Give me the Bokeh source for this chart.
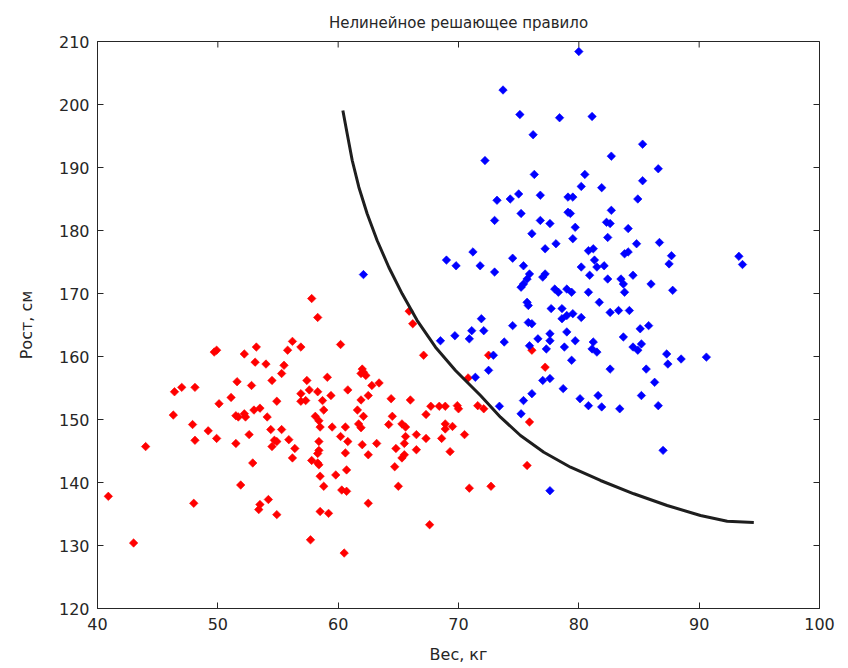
import math
from bokeh.plotting import figure
from bokeh.models import Range1d, FixedTicker
from bokeh.embed import file_html
from bokeh.resources import INLINE

# ---- data (weight kg, height cm) ----
red_weight = [46.4, 47.0, 48.1, 46.3, 47.9, 49.2, 49.7, 49.9, 50.1, 51.1, 51.6, 51.5, 51.7, 52.2, 52.2,
              52.3, 52.8, 53.0, 53.2, 53.1, 53.5, 54.0, 54.1, 54.5, 54.4, 54.9, 55.3, 55.5, 55.8, 56.2,
              55.3, 49.9, 48.1, 44.0, 51.5, 52.6, 54.7, 54.9, 54.5, 55.9, 56.4, 56.2, 52.9, 51.9, 40.9,
              48.0, 54.2, 53.5, 53.4, 54.9, 43.0, 57.8, 58.3, 56.9, 60.2, 62.0, 62.1, 61.9, 62.3, 59.1,
              57.4, 65.9, 66.2, 67.1, 62.8, 63.4, 57.6, 56.9, 58.3, 60.8, 59.4, 62.5, 56.9, 57.3, 58.7,
              61.9, 64.4, 66.0, 58.8, 61.6, 58.1, 58.4, 62.1, 64.5, 67.7, 68.4, 68.9, 69.9, 70.0, 71.6,
              72.1, 58.5, 59.5, 60.6, 61.7, 64.2, 65.3, 65.6, 68.9, 69.5, 70.8, 67.3, 61.9, 68.9, 58.4,
              60.2, 60.8, 62.0, 63.2, 65.6, 65.5, 66.5, 67.3, 68.6, 70.5, 58.4, 58.3, 57.8, 58.3, 58.4,
              60.6, 62.5, 64.8, 65.5, 65.3, 66.5, 69.3, 64.7, 58.5, 59.8, 60.7, 58.8, 60.3, 60.7, 65.0,
              70.9, 62.5, 58.5, 59.2, 67.6, 57.7, 60.5, 72.5, 76.1, 77.2, 75.9, 75.7, 72.7]
red_height = [154.4, 155.1, 155.1, 150.7, 149.2, 148.2, 160.7, 161.0, 152.5, 153.5, 156.0, 150.6, 150.4,
              160.4, 150.9, 150.4, 155.4, 151.5, 161.5, 159.1, 151.8, 158.8, 150.4, 156.2, 148.4, 152.9,
              157.3, 158.6, 161.0, 162.4, 148.4, 147.0, 146.7, 145.7, 146.2, 147.6, 146.7, 146.5, 145.7,
              146.8, 145.4, 143.9, 143.1, 139.6, 137.8, 136.7, 137.3, 136.5, 135.7, 134.9, 130.4, 169.2,
              166.2, 161.5, 161.9, 158.0, 157.5, 157.3, 157.0, 156.7, 156.2, 167.2, 165.2, 160.2, 155.4,
              155.8, 154.7, 154.1, 154.4, 154.7, 153.8, 153.8, 152.9, 153.0, 153.0, 153.1, 153.3, 153.1,
              151.5, 151.5, 150.5, 149.8, 150.5, 150.5, 152.1, 152.1, 152.1, 152.2, 151.7, 152.2, 151.7,
              148.8, 148.8, 148.8, 149.3, 149.2, 149.3, 148.8, 149.3, 148.9, 156.6, 150.8, 148.7, 148.5,
              146.5, 147.3, 146.5, 146.0, 146.2, 147.3, 146.2, 147.6, 147.0, 147.0, 147.6, 145.1, 144.6,
              143.5, 143.1, 142.8, 144.7, 144.4, 145.4, 144.4, 143.9, 145.2, 144.9, 142.5, 141.0, 141.2,
              142.0, 139.4, 138.8, 138.6, 139.4, 139.1, 136.7, 135.4, 135.1, 133.3, 130.9, 128.8, 160.2,
              161.0, 158.3, 149.6, 142.7, 139.4]

blue_weight = [80.0, 73.7, 75.1, 78.4, 81.1, 76.2, 85.3, 82.7, 72.2, 86.6, 76.3, 80.5, 85.3, 80.2, 81.9,
               84.9, 73.2, 74.3, 75.0, 76.8, 79.1, 79.5, 79.1, 79.3, 82.7, 73.0, 75.2, 76.8, 77.6, 79.7,
               82.3, 82.6, 84.1, 76.1, 79.5, 82.4, 78.1, 77.2, 84.8, 86.7, 71.2, 80.8, 81.2, 83.8, 84.1,
               87.7, 69.0, 74.5, 81.3, 87.5, 69.8, 71.8, 73.0, 75.4, 75.9, 75.7, 75.4, 75.2, 77.2, 77.0,
               78.0, 78.3, 79.0, 79.4, 80.2, 80.9, 81.5, 82.1, 82.4, 83.5, 83.7, 83.8, 84.5, 86.0, 87.8,
               80.8, 81.7, 75.7, 75.8, 77.7, 78.6, 78.6, 79.0, 79.5, 80.2, 82.6, 83.3, 84.2, 71.9, 71.1,
               72.1, 74.5, 75.8, 76.1, 69.7, 70.9, 68.5, 73.8, 75.9, 76.6, 77.6, 77.6, 77.3, 79.0, 78.8,
               79.7, 81.2, 81.1, 81.5, 83.7, 84.5, 84.9, 85.2, 85.1, 85.8, 87.3, 87.4, 88.5, 72.9, 72.5,
               71.4, 79.4, 82.6, 85.6, 77.0, 77.6, 78.7, 76.1, 75.4, 80.1, 81.6, 80.8, 81.9, 83.4, 85.2,
               86.3, 86.6, 73.4, 75.2, 87.0, 93.3, 93.6, 90.6, 77.6, 62.1]
blue_height = [208.4, 202.3, 198.4, 197.9, 198.1, 195.2, 193.7, 191.8, 191.1, 189.8, 188.9, 188.9, 187.9,
               187.0, 186.8, 185.0, 184.8, 185.0, 185.8, 185.6, 185.3, 185.3, 182.9, 182.7, 183.2, 181.6,
               182.7, 181.6, 181.1, 180.5, 181.3, 181.1, 180.3, 179.5, 178.7, 178.9, 177.9, 177.1, 177.9,
               178.1, 176.6, 176.8, 177.1, 176.3, 176.6, 176.0, 175.3, 175.6, 175.3, 174.7, 174.4, 174.4,
               173.4, 174.4, 173.1, 172.3, 171.5, 171.0, 173.1, 172.6, 170.7, 170.2, 170.7, 170.2, 174.2,
               172.9, 174.2, 174.4, 172.3, 172.3, 171.5, 170.2, 172.9, 171.5, 170.5, 170.2, 168.6, 168.6,
               168.1, 167.6, 167.6, 166.0, 166.5, 166.8, 166.2, 167.0, 167.3, 167.3, 166.0, 164.1, 164.1,
               164.9, 165.4, 165.2, 163.3, 162.8, 162.5, 162.3, 161.7, 162.8, 163.6, 162.5, 161.2, 163.9,
               161.5, 162.5, 162.3, 161.2, 160.7, 163.1, 161.5, 161.0, 162.0, 164.4, 164.9, 160.4, 158.8,
               159.6, 160.2, 157.8, 156.7, 159.4, 158.0, 158.0, 156.2, 156.5, 154.9, 154.1, 153.0, 153.3,
               153.8, 152.2, 152.0, 151.7, 153.8, 155.9, 152.2, 152.1, 150.9, 145.1, 175.9, 174.6, 159.9,
               138.7, 173.0]

boundary_weight = [60.39, 60.75, 61.17, 61.72, 62.41, 63.24, 64.21, 65.32, 66.57, 68.09, 69.75,
                   71.83, 73.49, 75.15, 77.09, 79.31, 81.8, 84.57, 87.34, 90.11, 92.33, 94.54]
boundary_height = [199.05, 195.35, 191.11, 186.87, 182.65, 178.41, 174.17, 169.95, 165.71, 161.48,
                   157.78, 153.81, 150.37, 147.46, 144.81, 142.43, 140.32, 138.21, 136.35,
                   134.76, 133.86, 133.65]

x_ticks = [40, 50, 60, 70, 80, 90, 100]
y_ticks = [120, 130, 140, 150, 160, 170, 180, 190, 200, 210]
x_lim = (40, 100)
y_lim = (120, 210)

title_text = "Нелинейное решающее правило"
x_label = "Вес, кг"
y_label = "Рост, см"

FONT = "DejaVu Sans"
TXT = "#262626"
AX = "#262626"

p = figure(frame_width=722, frame_height=567, output_backend="svg", toolbar_location=None,
           x_range=Range1d(*x_lim), y_range=Range1d(*y_lim),
           min_border_left=97, min_border_right=29, min_border_top=41, min_border_bottom=60,
           title=title_text)
p.title.align = "center"
p.title.text_font = FONT
p.title.text_font_size = "15px"
p.title.text_font_style = "normal"
p.title.text_color = TXT
p.title.standoff = 20

p.xgrid.visible = False
p.ygrid.visible = False
p.outline_line_color = AX
p.outline_line_width = 1
p.outline_line_alpha = 1
p.background_fill_color = "white"
p.border_fill_color = "white"

for ax, ticks, lab in ((p.xaxis[0], x_ticks, x_label), (p.yaxis[0], y_ticks, y_label)):
    ax.ticker = FixedTicker(ticks=ticks)
    ax.minor_tick_line_color = None
    ax.major_tick_in = 6
    ax.major_tick_out = 0
    ax.major_tick_line_color = AX
    ax.axis_line_color = AX
    ax.major_label_text_font = FONT
    ax.major_label_text_font_size = "16px"
    ax.major_label_text_color = TXT
    ax.axis_label = lab
    ax.axis_label_text_font = FONT
    ax.axis_label_text_font_size = "16px"
    ax.axis_label_text_font_style = "normal"
    ax.axis_label_text_color = TXT
p.xaxis[0].major_label_standoff = 9
p.xaxis[0].axis_label_standoff = 12
p.yaxis[0].major_label_standoff = 8
p.yaxis[0].axis_label_standoff = 20

# inward tick marks on the top and right edges of the box (MATLAB "box on")
p.scatter(x_ticks, [y_lim[1]] * len(x_ticks), marker="dash", angle=math.pi / 2, size=12,
          line_color=AX, line_width=1)
p.scatter([x_lim[1]] * len(y_ticks), y_ticks, marker="dash", size=12,
          line_color=AX, line_width=1)

p.scatter(red_weight, red_height, marker="square", angle=math.pi / 4, size=6,
          fill_color="#ff0000", line_color="#ff0000", line_width=0.6)
p.scatter(blue_weight, blue_height, marker="square", angle=math.pi / 4, size=6,
          fill_color="#0000ff", line_color="#0000ff", line_width=0.6)
p.line(boundary_weight, boundary_height, line_color="#1e1e1e", line_width=3, line_join="round")

open("out.html", "w").write(file_html(p, INLINE))
